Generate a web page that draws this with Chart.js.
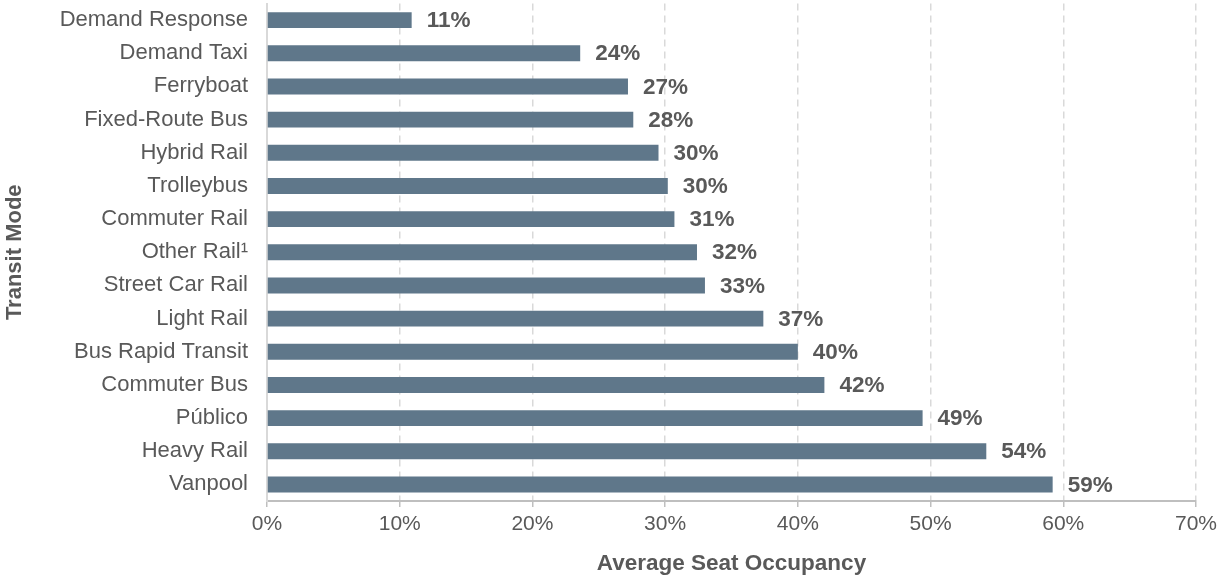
<!DOCTYPE html>
<html>
<head>
<meta charset="utf-8">
<script src="https://cdn.jsdelivr.net/npm/chart.js@4/dist/chart.umd.min.js"></script>
<style>
  html, body { margin: 0; padding: 0; background: #fff; }
  #wrap { width: 1222px; height: 578px; }
</style>
</head>
<body>
<div id="wrap"><canvas id="seatChart"></canvas></div>
<script>
// Transit modes, top to bottom
const modes = [
    'Demand Response', 'Demand Taxi', 'Ferryboat', 'Fixed-Route Bus', 'Hybrid Rail',
    'Trolleybus', 'Commuter Rail', 'Other Rail\u00B9', 'Street Car Rail', 'Light Rail',
    'Bus Rapid Transit', 'Commuter Bus', 'P\u00FAblico', 'Heavy Rail', 'Vanpool'
];
// Average seat occupancy (%)
const occupancy = [10.9, 23.6, 27.2, 27.6, 29.5, 30.2, 30.7, 32.4, 33.0, 37.4, 40.0, 42.0, 49.4, 54.2, 59.2];
// x axis ticks (%)
const xTicks = [0, 10, 20, 30, 40, 50, 60, 70];

const FONT = "'Liberation Sans', Arial, sans-serif";
const GREY = '#595959';

// simple value labels at the end of each bar
const barLabels = {
    id: 'barLabels',
    afterDatasetsDraw(chart) {
        const c = chart.ctx;
        const meta = chart.getDatasetMeta(0);
        c.save();
        c.font = 'bold 22.5px ' + FONT;
        c.fillStyle = GREY;
        c.textAlign = 'left';
        c.textBaseline = 'middle';
        meta.data.forEach((bar, i) => {
            c.fillText(Math.round(occupancy[i]) + '%', bar.x + 15, bar.y + 1);
        });
        c.restore();
    }
};

const ctx = document.getElementById('seatChart').getContext('2d');
const seatChart = new Chart(ctx, {
    type: 'bar',
    data: {
        labels: modes,
        datasets: [{
            data: occupancy,
            backgroundColor: '#5f778a',
            barPercentage: 0.48,
            categoryPercentage: 1
        }]
    },
    options: {
        indexAxis: 'y',
        responsive: true,
        maintainAspectRatio: false,
        animation: false,
        layout: { padding: { top: 0, right: 25, left: 0, bottom: 0 } },
        plugins: {
            legend: { display: false },
            tooltip: { enabled: false }
        },
        scales: {
            x: {
                min: xTicks[0],
                max: xTicks[xTicks.length - 1],
                afterBuildTicks: (scale) => { scale.ticks = xTicks.map(v => ({ value: v })); },
                afterFit: (scale) => { scale.height = 77; },
                ticks: {
                    callback: (v) => v + '%',
                    color: GREY,
                    font: { family: FONT, size: 21 },
                    padding: 5,
                    maxRotation: 0
                },
                grid: {
                    color: (c) => c.index === 0 ? 'rgba(0,0,0,0)' : '#d9d9d9',
                    tickColor: '#bfbfbf',
                    tickLength: 6,
                    lineWidth: 1.5
                },
                border: { display: true, color: '#bfbfbf', width: 2, dash: [7, 5] },
                title: {
                    display: true,
                    text: 'Average Seat Occupancy',
                    color: GREY,
                    font: { family: FONT, size: 22.5, weight: 'bold' },
                    padding: { top: 0, bottom: 1 }
                }
            },
            y: {
                afterFit: (scale) => { scale.width = 267; },
                ticks: {
                    color: GREY,
                    font: { family: FONT, size: 22, lineHeight: 0.32 },
                    padding: 0
                },
                grid: { display: false, drawTicks: true, tickLength: 19 },
                border: { display: true, color: '#d9d9d9', width: 2 },
                title: {
                    display: true,
                    text: 'Transit Mode',
                    color: GREY,
                    font: { family: FONT, size: 22, weight: 'bold' },
                    padding: { top: 2, bottom: 0 }
                }
            }
        }
    },
    plugins: [barLabels]
});
</script>
</body>
</html>
